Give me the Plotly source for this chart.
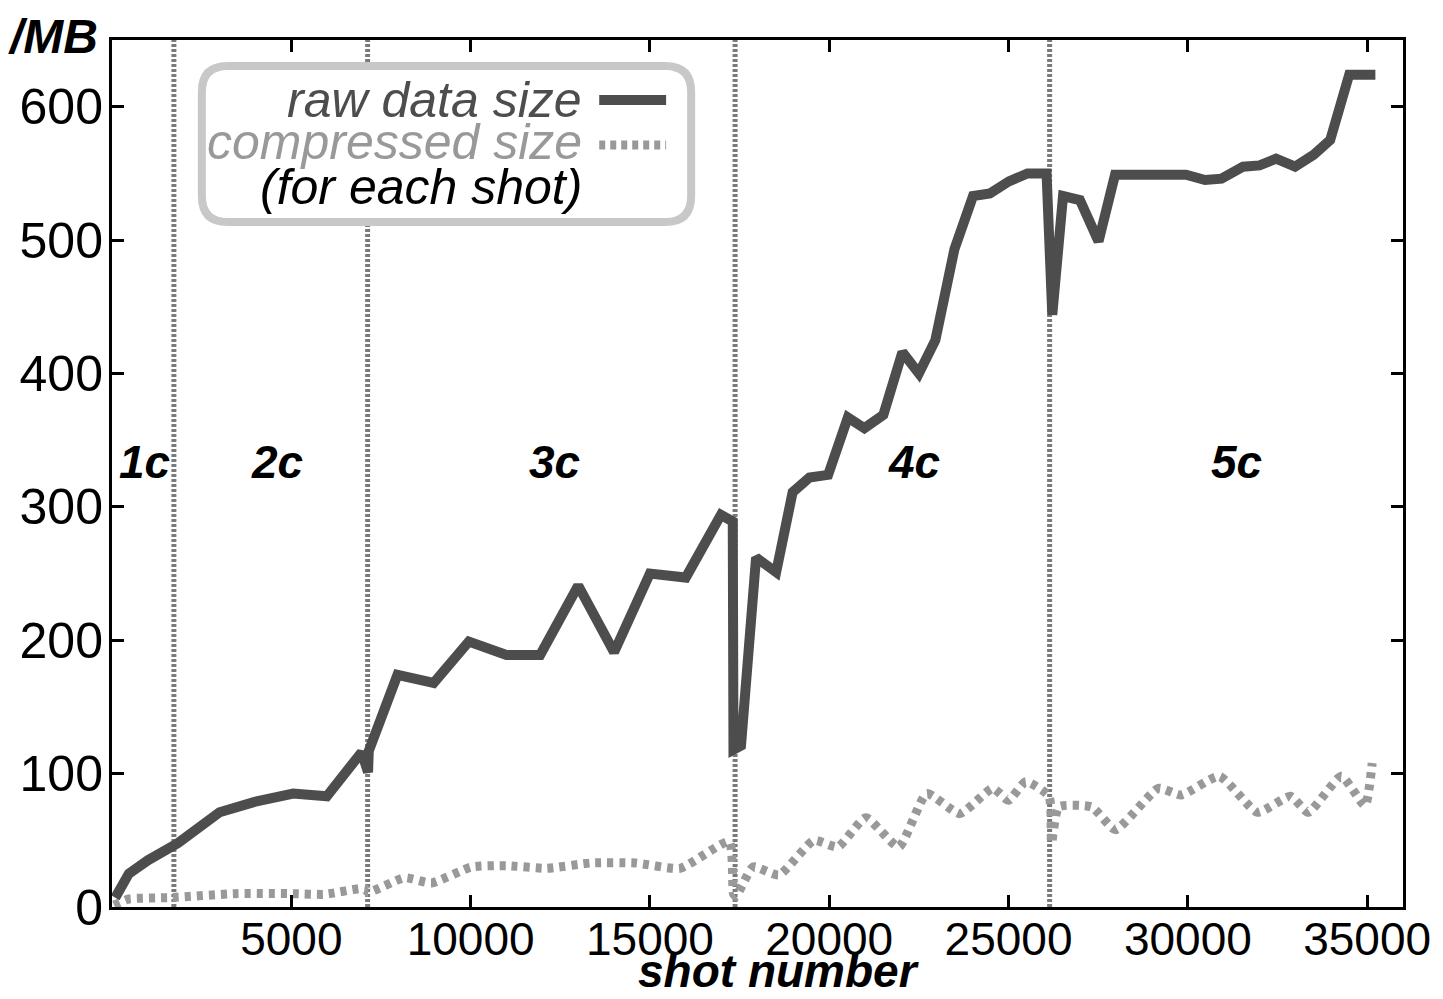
import plotly.graph_objects as go

# ---- data ----
raw_x = [90, 470, 1000, 1840, 3000, 4000, 5050, 5990, 6960, 7140, 7160, 7960, 8970, 9950,
         11000, 11940, 13000, 14000, 15000, 16000, 16980, 17310, 17330, 17540, 17960, 18520,
         18980, 19450, 19970, 20520, 20980, 21510, 22040, 22500, 22960, 23490, 24010, 24480,
         25010, 25530, 26060, 26220, 26520, 26990, 27510, 27970, 29000, 29950, 30480, 30940,
         31540, 32000, 32460, 32990, 33510, 33970, 34500, 35230]
raw_y = [7, 25, 35, 48, 71, 79, 85, 83, 116, 101, 117, 174, 168, 199,
         189, 189, 241, 191, 250, 247, 294, 289, 118, 121, 262, 251,
         311, 322, 324, 367, 359, 369, 416, 400, 425, 493, 533, 535,
         544, 550, 550, 444, 533, 530, 499, 549, 549, 549, 545, 546,
         555, 556, 561, 555, 564, 575, 624, 624]

comp_x = [60, 470, 1590, 3450, 5050, 5930, 7050, 7140, 8160, 8910, 10020, 11000, 12110,
          13360, 14600, 15840, 17210, 17330, 17400, 17880, 18600, 19570, 20240, 21020,
          21940, 22720, 23640, 24560, 25000, 25480, 26130, 26200, 26400, 27320, 27980,
          29180, 29820, 30880, 31940, 32860, 33360, 34280, 34940, 35140]
comp_y = [1.5, 6, 7, 10, 10, 9.5, 14, 11, 22, 18, 30, 31, 29,
          33, 33, 29, 49, 10, 8, 30, 24, 50, 45, 67,
          45, 85, 70, 89, 80, 94, 83, 48, 75, 75, 58,
          89, 84, 98, 71, 83, 71, 98, 76, 108]

phase_bounds = [1726, 7128, 17375, 26146]
phase_labels = ["1c", "2c", "3c", "4c", "5c"]
phase_label_x = [919, 4594, 12335, 22359, 31353]
phase_label_y = 334

x_ticks = [5000, 10000, 15000, 20000, 25000, 30000, 35000]
y_ticks = [0, 100, 200, 300, 400, 500, 600]

legend_rows = ["raw data size", "compressed size", "(for each shot)"]
legend_colors = ["#4d4d4d", "#999999", "#000000"]

RAW_COLOR = "#4d4d4d"
COMP_COLOR = "#999999"
FONT = "Liberation Sans"

fig = go.Figure()
fig.add_trace(go.Scatter(x=comp_x, y=comp_y, mode="lines",
                         line=dict(color=COMP_COLOR, width=9, dash="6px,6px", shape="spline", smoothing=0.5),
                         showlegend=False, hoverinfo="skip"))
fig.add_trace(go.Scatter(x=raw_x, y=raw_y, mode="lines",
                         line=dict(color=RAW_COLOR, width=10),
                         showlegend=False, hoverinfo="skip"))

shapes = []
for b in phase_bounds:
    shapes.append(dict(type="line", xref="x", yref="paper", x0=b, x1=b, y0=0, y1=1,
                       line=dict(color="#7a7a7a", width=5, dash="3px,2px"), layer="below"))

# legend box (rounded)
x0, x1, y0, y1 = 0.0696, 0.4486, 0.790, 0.970
rx, ry = 0.020, 0.030
path = (f"M {x0+rx},{y1} L {x1-rx},{y1} Q {x1},{y1} {x1},{y1-ry} L {x1},{y0+ry} "
        f"Q {x1},{y0} {x1-rx},{y0} L {x0+rx},{y0} Q {x0},{y0} {x0},{y0+ry} "
        f"L {x0},{y1-ry} Q {x0},{y1} {x0+rx},{y1} Z")
shapes.append(dict(type="path", xref="paper", yref="paper", path=path,
                   line=dict(color="#c8c8c8", width=8), fillcolor="white", layer="above"))
shapes.append(dict(type="line", xref="paper", yref="paper", x0=0.3774, x1=0.4292, y0=0.9308, y1=0.9308,
                   line=dict(color=RAW_COLOR, width=10), layer="above"))
shapes.append(dict(type="line", xref="paper", yref="paper", x0=0.3774, x1=0.4292, y0=0.8789, y1=0.8789,
                   line=dict(color=COMP_COLOR, width=9, dash="6px,5px"), layer="above"))

annotations = []
for lab, lx in zip(phase_labels, phase_label_x):
    annotations.append(dict(x=lx, y=phase_label_y, xref="x", yref="y", text=f"<b><i>{lab}</i></b>",
                            showarrow=False, font=dict(family=FONT, size=46, color="black")))
legend_y = [0.9308, 0.8824, 0.8304]
for t, c, ly in zip(legend_rows, legend_colors, legend_y):
    annotations.append(dict(x=0.3658, y=ly, xref="paper", yref="paper", text=f"<i>{t}</i>",
                            xanchor="right", yanchor="middle", showarrow=False,
                            font=dict(family=FONT, size=50, color=c)))
annotations.append(dict(x=-0.082, y=1.0369, xref="paper", yref="paper", text="<b><i>/MB</i></b>",
                        xanchor="left", yanchor="top", showarrow=False,
                        font=dict(family=FONT, size=48, color="black")))
annotations.append(dict(x=0.516, y=-0.074, xref="paper", yref="paper", text="<b><i>shot number</i></b>",
                        xanchor="center", yanchor="middle", showarrow=False,
                        font=dict(family=FONT, size=46, color="black")))

fig.update_layout(
    width=1435, height=991,
    margin=dict(l=102, r=35, t=32, b=92),
    plot_bgcolor="white", paper_bgcolor="white",
    shapes=shapes, annotations=annotations,
    font=dict(family=FONT, size=50, color="black"),
)
fig.update_xaxes(range=[0, 36000], tickvals=x_ticks, ticktext=[str(v) for v in x_ticks],
                 ticks="inside", ticklen=12, tickwidth=3, tickcolor="black",
                 showline=True, linecolor="black", linewidth=3, mirror="ticks",
                 showgrid=False, zeroline=False, tickfont=dict(size=46), ticklabelstandoff=-10)
fig.update_yaxes(range=[0, 650], tickvals=y_ticks, ticktext=[str(v) for v in y_ticks],
                 ticks="inside", ticklen=12, tickwidth=3, tickcolor="black",
                 showline=True, linecolor="black", linewidth=3, mirror="ticks",
                 showgrid=False, zeroline=False, tickfont=dict(size=50), ticklabelstandoff=-4)

fig.write_html("out.html")
